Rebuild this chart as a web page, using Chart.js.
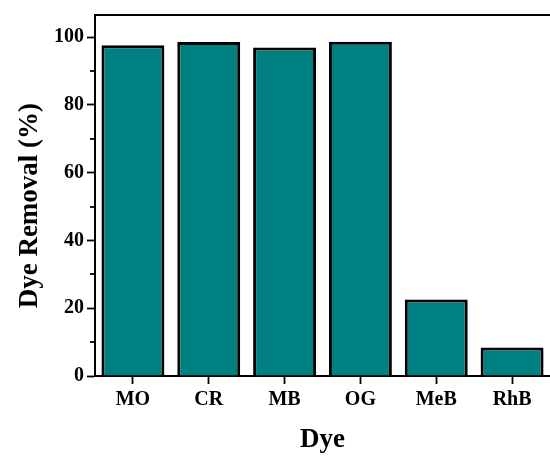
<!DOCTYPE html>
<html>
<head>
<meta charset="utf-8">
<script src="https://cdn.jsdelivr.net/npm/chart.js@4/dist/chart.umd.min.js"></script>
<style>
  html, body { margin: 0; padding: 0; background: #ffffff; }
  #wrap { width: 550px; height: 456px; }
</style>
</head>
<body>
<div id="wrap"><canvas id="chart" width="550" height="456"></canvas></div>
<script>
// Dye removal efficiency per dye
const dyes = ['MO', 'CR', 'MB', 'OG', 'MeB', 'RhB'];
const removal = [97.6, 98.5, 96.9, 98.6, 22.6, 8.4];
const majorTicks = [0, 20, 40, 60, 80, 100];
const minorTicks = [10, 30, 50, 70, 90];

const FONT = "'Liberation Serif', 'Times New Roman', serif";

// Frame line along the top and short minor ticks on the y axis
const decorations = {
  id: 'decorations',
  afterDraw(chart) {
    const { ctx, chartArea } = chart;
    const y = chart.scales.y;
    ctx.save();
    ctx.strokeStyle = '#000';
    ctx.lineWidth = 2;
    ctx.beginPath();
    ctx.moveTo(chartArea.left - 1, chartArea.top);
    ctx.lineTo(chartArea.right + 2, chartArea.top);
    ctx.stroke();
    ctx.lineWidth = 1.8;
    minorTicks.forEach(v => {
      const py = Math.round(y.getPixelForValue(v));
      ctx.beginPath();
      ctx.moveTo(chartArea.left - 5, py);
      ctx.lineTo(chartArea.left, py);
      ctx.stroke();
    });
    ctx.restore();
  }
};

new Chart(document.getElementById('chart'), {
  type: 'bar',
  data: {
    labels: dyes,
    datasets: [{
      data: removal,
      backgroundColor: '#008080',
      borderColor: '#000000',
      borderWidth: 3,
      barPercentage: 1.0,
      categoryPercentage: 0.83
    }]
  },
  options: {
    responsive: false,
    animation: false,
    layout: { padding: { left: 0, right: 0, top: 13, bottom: 0 } },
    plugins: { legend: { display: false }, tooltip: { enabled: false } },
    scales: {
      x: {
        offset: true,
        grid: { display: true, drawOnChartArea: false, offset: false, tickLength: 8, tickColor: '#000', tickWidth: 1.8 },
        border: { display: true, color: '#000', width: 2 },
        ticks: { color: '#000', padding: 4, font: { family: FONT, size: 20, weight: 'bold' }, maxRotation: 0 },
        title: { display: true, text: 'Dye', color: '#000', padding: { top: 0, bottom: 0 }, font: { family: FONT, size: 27, weight: 'bold' } },
        afterFit(s) { s.height = 80; s.paddingLeft = 0; s.paddingRight = 0; }
      },
      y: {
        min: 0,
        max: 106.5,
        afterBuildTicks(s) { s.ticks = majorTicks.map(v => ({ value: v })); },
        grid: { display: true, drawOnChartArea: false, tickLength: 8, tickColor: '#000', tickWidth: 1.8 },
        border: { display: true, color: '#000', width: 2 },
        ticks: { color: '#000', padding: 3, font: { family: FONT, size: 20, weight: 'bold' } },
        // trailing spaces nudge the rotated title slightly toward the x axis
        title: { display: true, text: 'Dye Removal (%)   ', color: '#000', padding: { top: 14, bottom: 0 }, font: { family: FONT, size: 27, weight: 'bold' } },
        afterFit(s) { s.width = 95; }
      }
    }
  },
  plugins: [decorations]
});
</script>
</body>
</html>
